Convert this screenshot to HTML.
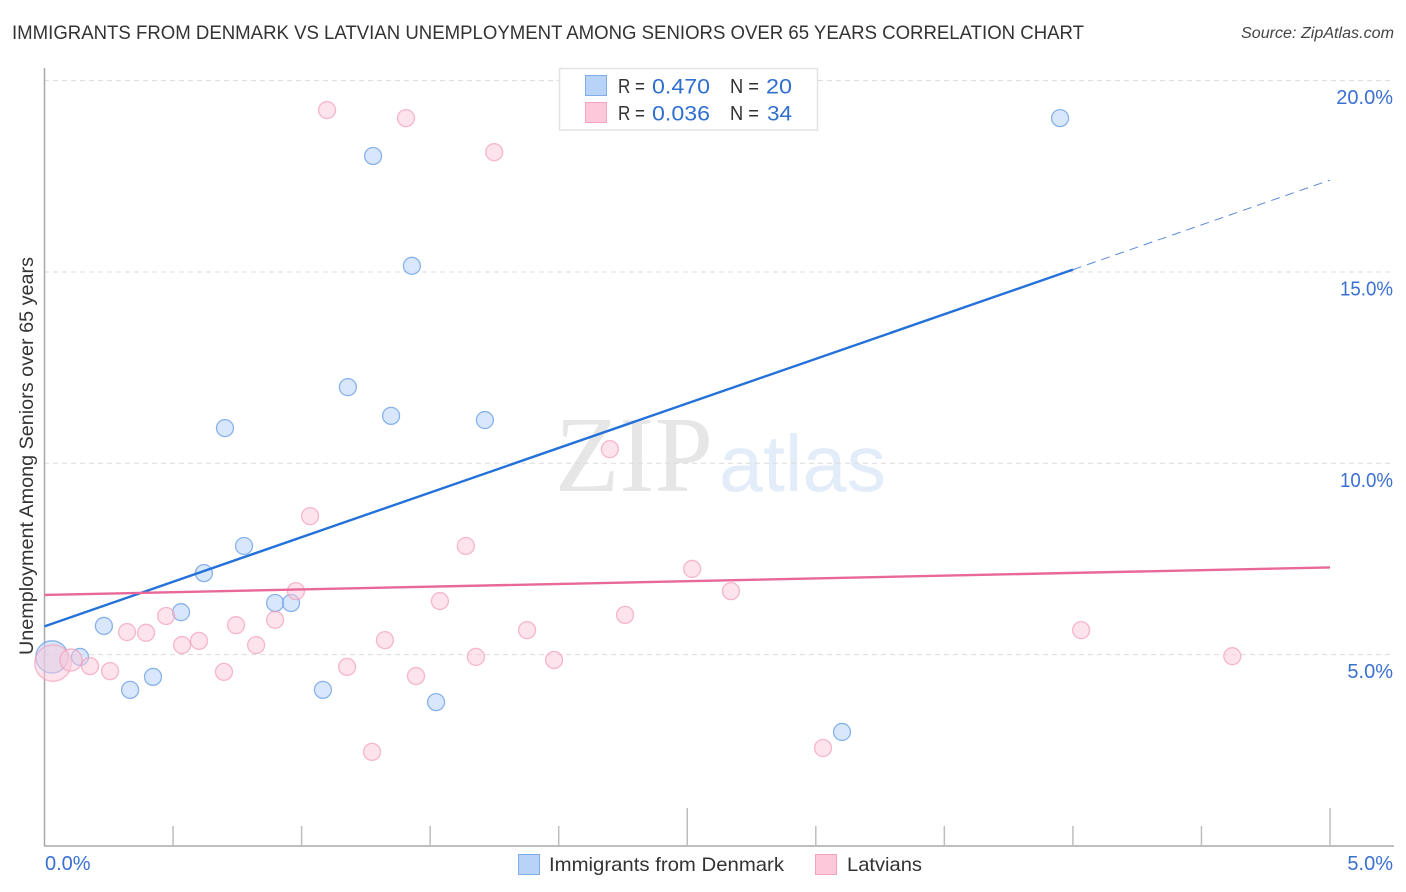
<!DOCTYPE html>
<html lang="en">
<head>
<meta charset="utf-8">
<title>Immigrants from Denmark vs Latvian Unemployment Correlation Chart</title>
<style>
html,body{margin:0;padding:0;background:#fff;width:1406px;height:892px;overflow:hidden}
svg{display:block}
text{font-family:"Liberation Sans",Arial,sans-serif}
</style>
</head>
<body>
<svg id="chart" width="1406" height="892" viewBox="0 0 1406 892" xmlns="http://www.w3.org/2000/svg">
  <text x="12" y="39" font-size="19.5" fill="#333" textLength="1072" lengthAdjust="spacingAndGlyphs">IMMIGRANTS FROM DENMARK VS LATVIAN UNEMPLOYMENT AMONG SENIORS OVER 65 YEARS CORRELATION CHART</text>
  <text x="1241" y="38" font-size="15.5" font-style="italic" fill="#444" textLength="153" lengthAdjust="spacingAndGlyphs">Source: ZipAtlas.com</text>

  <g>
    <text x="555" y="491" font-size="108" fill="#e6e6e6" style="font-family:'Liberation Serif',serif" textLength="158" lengthAdjust="spacingAndGlyphs">ZIP</text>
    <text x="719" y="491" font-size="80" fill="#e3ecf9" textLength="167" lengthAdjust="spacingAndGlyphs">atlas</text>
  </g>

  <g id="grid"></g>
  <g id="axes"></g>
  <g id="ytl"></g>
  <g id="xtl"></g>
  <text transform="translate(33,655) rotate(-90)" font-size="19" fill="#333" textLength="398" lengthAdjust="spacingAndGlyphs">Unemployment Among Seniors over 65 years</text>

  <g id="pts-blue"></g>
  <g id="pts-pink"></g>
  <g id="trends"></g>

  <g>
    <rect x="559.5" y="68.5" width="258" height="61.5" fill="#fff" stroke="#e2e2e2" stroke-width="1.5"/>
    <rect x="585.5" y="75.5" width="21" height="20" fill="#b8d3f7" stroke="#7fadea" stroke-width="1"/>
    <rect x="585.5" y="102.5" width="21" height="20" fill="#fcc8da" stroke="#f4a3bf" stroke-width="1"/>
    <g font-size="20" fill="#333">
      <text x="618" y="93" textLength="27" lengthAdjust="spacingAndGlyphs">R =</text>
      <text x="730" y="93" textLength="29" lengthAdjust="spacingAndGlyphs">N =</text>
      <text x="618" y="120" textLength="27" lengthAdjust="spacingAndGlyphs">R =</text>
      <text x="730" y="120" textLength="29" lengthAdjust="spacingAndGlyphs">N =</text>
    </g>
    <g font-size="21.5" fill="#2f6fd0">
      <text x="652" y="93.5" textLength="58" lengthAdjust="spacingAndGlyphs">0.470</text>
      <text x="766" y="93.5" textLength="26" lengthAdjust="spacingAndGlyphs">20</text>
      <text x="652" y="120.5" textLength="58" lengthAdjust="spacingAndGlyphs">0.036</text>
      <text x="767" y="120.5" textLength="25" lengthAdjust="spacingAndGlyphs">34</text>
    </g>
  </g>

  <g>
    <rect x="518.5" y="854.5" width="21" height="20" fill="#b8d3f7" stroke="#7fadea" stroke-width="1"/>
    <text x="549" y="871" font-size="19.5" fill="#333" textLength="235" lengthAdjust="spacingAndGlyphs">Immigrants from Denmark</text>
    <rect x="815.5" y="854.5" width="21" height="20" fill="#fcc8da" stroke="#f4a3bf" stroke-width="1"/>
    <text x="847" y="871" font-size="19.5" fill="#333" textLength="75" lengthAdjust="spacingAndGlyphs">Latvians</text>
  </g>
</svg>

<script>
var yTickValues = [5, 10, 15, 20];
var yTickLabels = ["5.0%", "10.0%", "15.0%", "20.0%"];
var xTickValues = [0.5, 1, 1.5, 2, 2.5, 3, 3.5, 4, 4.5, 5];
var xMajorTicks = [2.5, 5];
var xTickLabelValues = [0, 5];
var xTickLabels = ["0.0%", "5.0%"];

var denmarkX = [0.029,0.138,0.231,0.333,0.422,0.531,0.620,0.702,0.776,0.897,0.959,1.083,1.180,1.278,1.348,1.429,1.523,1.713,3.102,3.950];
var denmarkY = [4.94,4.94,5.75,4.08,4.42,6.11,7.13,10.92,7.84,6.35,6.35,4.08,11.99,18.03,11.24,15.16,3.76,11.13,2.98,19.02];
var denmarkWeight = [3.6,1,1,1,1,1,1,1,1,1,1,1,1,1,1,1,1,1,1,1];

var latvianX = [0.033,0.103,0.177,0.255,0.321,0.395,0.473,0.535,0.601,0.698,0.745,0.823,0.897,0.978,1.033,1.099,1.177,1.274,1.324,1.406,1.445,1.538,1.639,1.678,1.749,1.877,1.982,2.199,2.258,2.519,2.670,3.028,4.032,4.620];
var latvianY = [4.78,4.86,4.70,4.57,5.59,5.57,6.01,5.25,5.36,4.55,5.77,5.25,5.91,6.66,8.62,19.23,4.68,2.46,5.38,19.02,4.44,6.40,7.84,4.94,18.13,5.64,4.86,10.37,6.04,7.24,6.66,2.56,5.64,4.96];
var latvianWeight = [4.6,1.7,1,1,1,1,1,1,1,1,1,1,1,1,1,1,1,1,1,1,1,1,1,1,1,1,1,1,1,1,1,1,1,1];

var denmarkTrendX = [0, 4];
var denmarkTrendY = [5.74, 15.06];
var denmarkForecastX = [4, 5];
var denmarkForecastY = [15.06, 17.40];
var latvianTrendX = [0, 5];
var latvianTrendY = [6.56, 7.28];

var NS = "http://www.w3.org/2000/svg";
function sx(v) { return 44.5 + 257.1 * v; }
function sy(v) { return 846 - 38.27 * v; }
function sr(w) { return 8.5 * Math.sqrt(w); }
function mk(parent, tag, attrs, txt) {
  var el = document.createElementNS(NS, tag);
  for (var k in attrs) el.setAttribute(k, attrs[k]);
  if (txt !== undefined) el.textContent = txt;
  document.getElementById(parent).appendChild(el);
  return el;
}
var el;

yTickValues.forEach(function (v, i) {
  el = mk("grid", "line", {x1: 44, x2: 1394, y1: sy(v), y2: sy(v), stroke: "#dcdcdc", "stroke-width": 1, "stroke-dasharray": "5 4"});
  
  
  el = mk("ytl", "text", {x: 1393, y: sy(v) + 23.5, "font-size": 20, fill: "#3a70d2", "text-anchor": "end"}, yTickLabels[i]);
  if (yTickLabels[i].charAt(0) === "1") { el.setAttribute("textLength", 53); el.setAttribute("lengthAdjust", "spacingAndGlyphs"); }
  
  
});

el = mk("axes", "line", {x1: 44.5, x2: 44.5, y1: 68, y2: 846, stroke: "#a8a8a8", "stroke-width": 1.5});


el = mk("axes", "line", {x1: 44, x2: 1394, y1: 846, y2: 846, stroke: "#a8a8a8", "stroke-width": 1.5});



xTickValues.forEach(function (v) {
  var tall = xMajorTicks.indexOf(v) >= 0;
  el = mk("axes", "line", {x1: sx(v), x2: sx(v), y1: tall ? 808 : 826, y2: 846, stroke: "#bdbdbd", "stroke-width": 1.5});
  
  
});

xTickLabelValues.forEach(function (v, i) {
  el = mk("xtl", "text", {x: v === 0 ? 45 : 1393, y: 870, "font-size": 20, fill: "#3a70d2", "text-anchor": v === 0 ? "start" : "end"}, xTickLabels[i]);
  
  
});

denmarkX.forEach(function (v, i) {
  el = mk("pts-blue", "circle", {cx: sx(v), cy: sy(denmarkY[i]), r: sr(denmarkWeight[i]), fill: "#b8d3f7", "fill-opacity": 0.55, stroke: "#6fa3e6", "stroke-opacity": 0.8, "stroke-width": 1.3});
  
  
});
latvianX.forEach(function (v, i) {
  el = mk("pts-pink", "circle", {cx: sx(v), cy: sy(latvianY[i]), r: sr(latvianWeight[i]), fill: "#fcc8da", "fill-opacity": 0.5, stroke: "#f29dbb", "stroke-opacity": 0.7, "stroke-width": 1.3});
  
  
});

el = mk("trends", "line", {x1: sx(denmarkForecastX[0]), y1: sy(denmarkForecastY[0]), x2: sx(denmarkForecastX[1]), y2: sy(denmarkForecastY[1]), stroke: "#5b8ad6", "stroke-width": 1, "stroke-dasharray": "9 6"});


el = mk("trends", "line", {x1: sx(denmarkTrendX[0]), y1: sy(denmarkTrendY[0]), x2: sx(denmarkTrendX[1]), y2: sy(denmarkTrendY[1]), stroke: "#2471d9", "stroke-width": 2.4});


el = mk("trends", "line", {x1: sx(latvianTrendX[0]), y1: sy(latvianTrendY[0]), x2: sx(latvianTrendX[1]), y2: sy(latvianTrendY[1]), stroke: "#e8689a", "stroke-width": 2.4});


</script>
</body>
</html>
